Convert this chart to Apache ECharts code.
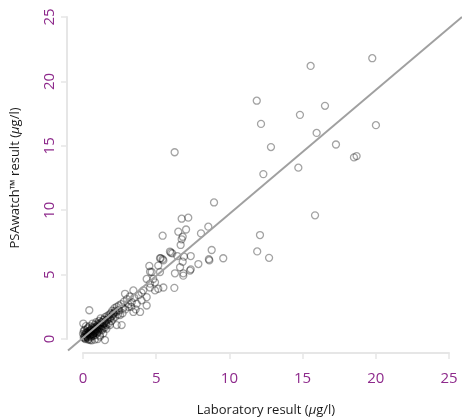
<!DOCTYPE html>
<html>
<head>
<meta charset="utf-8">
<script src="https://cdn.jsdelivr.net/npm/echarts@6/dist/echarts.min.js"></script>
<style>
html,body{margin:0;padding:0;background:#fff;}
#c{width:462px;height:418px;}
</style>
</head>
<body>
<div id="c"></div>
<script>
// ---- data ----
const xTicks = [0, 5, 10, 15, 20, 25];
const yTicks = [0, 5, 10, 15, 20, 25];
const xTitle = 'Laboratory result ({i|μ}g/l)';
const yTitle = 'PSAwatch™ result ({i|μ}g/l)';

// Laboratory result (x) vs PSAwatch result (y)
const highPoints = [
  [15.55,21.2],[19.76,21.8],[11.87,18.5],[16.53,18.1],[14.82,17.4],[12.16,16.7],
  [20.01,16.6],[15.96,16.0],[12.84,14.9],[17.28,15.1],[18.51,14.1],[18.69,14.2],
  [14.71,13.3],[12.32,12.8],[15.85,9.6],[12.09,8.07],[11.9,6.8],[12.71,6.3]
];
const midPoints = [
  [6.26,14.5],[8.95,10.6],[6.74,9.34],[7.19,9.42],[8.56,8.72],[8.06,8.2],[7.04,8.5],
  [6.51,8.33],[5.44,8.02],[6.81,7.94],[6.74,7.74],[6.67,7.3],[8.79,6.91],[9.58,6.27],
  [8.6,6.19],[8.63,6.1],[7.88,5.82],[7.36,6.44],[6.9,6.39],[6.81,6.0],[6.44,6.44],
  [6.1,6.65],[5.94,6.79],[6.0,6.7],[5.31,6.27],[5.44,6.19],[4.53,5.67],[7.36,5.41],[6.63,5.57],
  [6.28,5.1],[6.85,5.1],[4.58,5.22],[7.31,5.31],[6.24,3.97],[6.85,4.92],[5.26,6.27],
  [5.49,6.1],[5.14,5.7],[5.26,5.2],[4.8,4.66],[4.35,4.66],[4.92,4.4],[5.49,4.0],
  [4.58,4.0],[5.14,3.9],[4.12,3.77],[4.35,3.25]
];
const lowPoints = [
  [4.69,5.2],[4.58,4.3],[4.92,3.77],[3.44,3.77],[2.87,3.51],[3.33,2.87],[3.67,2.74],
  [4.0,3.0],[4.35,2.6],[3.9,2.1],[3.44,2.1],[3.1,2.5],[2.75,2.4],[2.41,2.23],
  [2.64,1.08],[2.07,1.6],[1.5,-0.08],[1.39,0.44],[1.84,1.08],[2.3,1.08],[0.43,2.23],
  [0.02,1.2],[0.14,0.05],[0.48,-0.08],[2.53,1.86],[1.16,0.18],[1.39,0.83]
];
const densePoints = [
  [0.05,0.1],[0.1,0.3],[0.15,0.0],[0.2,0.5],[0.25,0.2],[0.3,0.8],[0.3,0.1],[0.35,0.4],
  [0.4,0.6],[0.4,0.0],[0.45,1.0],[0.5,0.3],[0.5,0.7],[0.55,0.5],[0.6,0.9],[0.6,0.2],
  [0.65,1.2],[0.7,0.6],[0.7,0.4],[0.75,0.9],[0.8,1.1],[0.8,0.5],[0.85,0.8],[0.9,1.3],
  [0.9,0.7],[0.95,1.0],[1.0,1.2],[1.0,0.6],[1.05,0.9],[1.1,1.4],[1.1,1.0],[1.15,0.3],
  [1.2,1.1],[1.2,1.6],[1.25,0.8],[1.3,1.3],[1.35,1.0],[1.4,1.5],[1.45,1.2],[1.5,1.7],
  [1.5,0.9],[1.55,1.4],[1.6,1.1],[1.65,1.8],[1.7,1.5],[1.75,1.2],[1.8,1.9],[1.85,1.6],
  [1.9,2.0],[1.95,1.4],[2.0,2.2],[2.0,1.8],[2.1,2.0],[2.15,2.4],[2.2,1.7],[2.25,2.1],
  [2.3,2.5],[2.4,1.9],[2.45,2.6],[2.5,2.2],[2.6,2.7],[2.7,2.0],[2.8,2.9],[2.9,2.3],
  [3.0,3.1],[3.1,2.7],[3.2,3.3],[3.3,2.5],[3.5,3.2],[3.6,2.3],[3.8,3.4],[4.0,3.6],
  [0.2,1.0],[0.1,0.7],[0.0,0.4],[0.05,0.6],[0.25,0.15],[0.3,0.55],[0.35,0.9],[0.45,0.25],
  [0.55,0.75],[0.65,0.35],[0.75,0.65],[0.85,0.3],[0.95,0.45],[1.05,0.55],[1.3,0.7],
  [1.6,0.8],[1.0,0.0],[0.8,-0.05],[0.6,-0.1],[0.35,-0.05],
  [0.15,0.35],[0.2,0.25],[0.3,0.35],[0.4,0.45],[0.45,0.6],[0.5,0.5],[0.55,0.35],
  [0.6,0.65],[0.65,0.55],[0.7,0.8],[0.75,0.5],[0.8,0.75],[0.85,0.6],[0.9,0.95],
  [0.95,0.8],[1.0,0.9],[1.05,1.1],[1.1,0.8],[1.15,1.2],[1.2,0.95],[1.25,1.3],
  [1.3,1.05],[1.4,1.2],[1.45,1.5],[1.55,1.25],[1.65,1.5],[1.75,1.7],[1.9,1.7],
  [2.05,1.95],[2.2,2.2],[0.1,0.15],[0.25,0.45],[0.5,0.15],[0.7,0.25]
];
// fitted line y = slope*x + intercept
const fitSlope = 0.962;
const fitIntercept = 0.1;

// ---- chart ----
const allPoints = [].concat(densePoints, lowPoints, midPoints, highPoints);
const X_MIN = -1.025, X_MAX = 25.89, Y_MIN = -1.087, Y_MAX = 25.93;
const fitLine = [X_MIN, X_MAX].map(x => [x, fitSlope * x + fitIntercept]);

const purple = '#8E2A8C';
const axisGrey = '#e6e6e6';
const font = 'Open Sans, Noto Sans, sans-serif';

const chart = echarts.init(document.getElementById('c'), null, {renderer: 'canvas'});
chart.setOption({
  animation: false,
  backgroundColor: '#fff',
  grid: [
    {left: 68, width: 394, top: 5, height: 348},   // plot region
    {left: 83, width: 366, top: 340, height: 13},  // x axis
    {left: 67, width: 10, top: 17, height: 322}    // y axis
  ],
  xAxis: [
    {gridIndex: 0, type: 'value', min: X_MIN, max: X_MAX, show: false},
    {gridIndex: 1, type: 'value', min: xTicks[0], max: xTicks[xTicks.length - 1], interval: 5,
      axisLine: {show: true, lineStyle: {color: axisGrey, width: 2}},
      axisTick: {show: true, inside: false, length: 6, lineStyle: {color: axisGrey, width: 1.5}},
      splitLine: {show: false},
      axisLabel: {color: purple, fontSize: 15, fontFamily: font, margin: 18},
      name: xTitle, nameLocation: 'middle', nameGap: 51,
      nameTextStyle: {color: '#1a1a1a', fontSize: 13, fontFamily: font,
        rich: {i: {fontStyle: 'italic', fontSize: 13, color: '#1a1a1a', fontFamily: font}}}
    },
    {gridIndex: 2, type: 'value', show: false}
  ],
  yAxis: [
    {gridIndex: 0, type: 'value', min: Y_MIN, max: Y_MAX, show: false},
    {gridIndex: 1, type: 'value', show: false},
    {gridIndex: 2, type: 'value', min: yTicks[0], max: yTicks[yTicks.length - 1], interval: 5,
      axisLine: {show: true, lineStyle: {color: axisGrey, width: 2}},
      axisTick: {show: true, inside: false, length: 6, lineStyle: {color: axisGrey, width: 1.5}},
      splitLine: {show: false},
      axisLabel: {color: purple, fontSize: 15, fontFamily: font, margin: 10, rotate: 90},
      name: yTitle, nameLocation: 'middle', nameGap: 45,
      nameTextStyle: {color: '#1a1a1a', fontSize: 13, fontFamily: font,
        rich: {i: {fontStyle: 'italic', fontSize: 13, color: '#1a1a1a', fontFamily: font}}}
    }
  ],
  series: [
    {
      type: 'scatter', xAxisIndex: 0, yAxisIndex: 0,
      data: allPoints,
      symbol: 'circle', symbolSize: 7,
      itemStyle: {color: 'rgba(0,0,0,0)', borderColor: 'rgba(0,0,0,0.45)', borderWidth: 1.3},
      z: 2
    },
    {
      type: 'line', xAxisIndex: 0, yAxisIndex: 0,
      data: fitLine, showSymbol: false, symbol: 'none',
      lineStyle: {color: '#a0a0a0', width: 2},
      z: 3
    }
  ]
});
</script>
</body>
</html>
